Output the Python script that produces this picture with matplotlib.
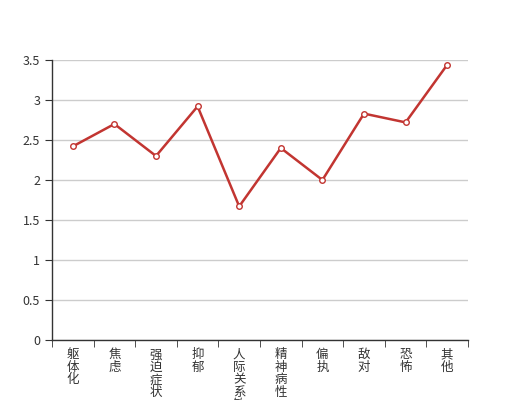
import matplotlib
matplotlib.use("Agg")
import matplotlib.pyplot as plt

plt.rcParams['font.family'] = ['Noto Sans CJK SC', 'DejaVu Sans']

# ── Data ──────────────────────────────────────────────────────────────────────
categories = ["躯体化", "焦虑", "强迫症状", "抑郁", "人际关系敏感",
              "精神病性", "偏执", "敌对", "恐怖", "其他"]
scores = [2.42, 2.70, 2.30, 2.92, 1.67, 2.40, 2.00, 2.83, 2.72, 3.44]
y_ticks = [0, 0.5, 1, 1.5, 2, 2.5, 3, 3.5]
y_tick_labels = ["0", "0.5", "1", "1.5", "2", "2.5", "3", "3.5"]

LINE_COLOR = "#c23531"
AXIS_COLOR = "#333333"
GRID_COLOR = "#cccccc"

fig = plt.figure(figsize=(5.2, 4.0), dpi=100, facecolor="white")
ax = fig.add_axes([0.1, 0.15, 0.8, 0.7])

x = list(range(len(categories)))
ax.plot(x, scores, color=LINE_COLOR, linewidth=1.8, marker="o",
        markersize=4, markerfacecolor="white", markeredgecolor=LINE_COLOR,
        markeredgewidth=1.0, zorder=3, clip_on=False)

ax.set_xlim(-0.5, len(categories) - 0.5)
ax.set_ylim(0, 3.5)

# y axis
ax.set_yticks(y_ticks)
ax.set_yticklabels(y_tick_labels)
ax.yaxis.grid(True, color=GRID_COLOR, linewidth=1)
ax.set_axisbelow(True)

# x axis: labels at centres, tick marks at boundaries
ax.set_xticks(x)
ax.set_xticklabels(["\n".join(c) for c in categories], linespacing=0.95,
                   va="top")
ax.set_xticks([i - 0.5 for i in range(len(categories) + 1)], minor=True)
ax.tick_params(axis="x", which="major", length=0, pad=6)
ax.tick_params(axis="x", which="minor", length=5, color=AXIS_COLOR)
ax.tick_params(axis="y", length=5, color=AXIS_COLOR)
ax.tick_params(labelsize=9, labelcolor=AXIS_COLOR)

for side in ["top", "right"]:
    ax.spines[side].set_visible(False)
for side in ["left", "bottom"]:
    ax.spines[side].set_color(AXIS_COLOR)
    ax.spines[side].set_linewidth(1)

fig.savefig("out.png", dpi=100, facecolor="white")
